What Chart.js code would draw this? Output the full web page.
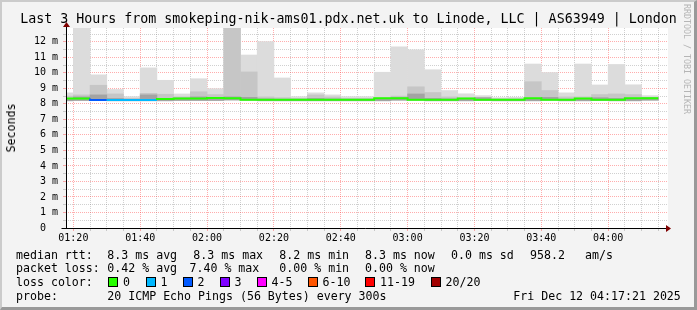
<!DOCTYPE html>
<html><head><meta charset="utf-8">
<script src="https://cdn.jsdelivr.net/npm/chart.js@4/dist/chart.umd.min.js"></script>
<style>
html,body{margin:0;padding:0;}
body{width:697px;height:310px;background:#f3f3f3;position:relative;overflow:hidden;font-family:"DejaVu Sans Mono",monospace;color:#000;}
#frame{position:absolute;left:0;top:0;width:697px;height:310px;box-sizing:border-box;border-top:2px solid #cbcbcb;border-left:2px solid #cbcbcb;border-bottom:3px solid #999;border-right:3px solid #999;pointer-events:none;z-index:5;}
#c{position:absolute;left:0;top:0;}
.t{position:absolute;white-space:pre;font-size:11.6px;line-height:14px;}
#title{position:absolute;left:0;width:697px;top:11px;text-align:center;font-size:13.3px;line-height:16px;white-space:pre;}
#ylab{position:absolute;left:10.5px;top:127.5px;font-size:11.6px;line-height:14px;white-space:pre;transform:translate(-50%,-50%) rotate(-90deg);}
#wm{position:absolute;left:682px;top:4px;font-size:8.3px;line-height:10px;writing-mode:vertical-rl;color:#b5b5b5;white-space:pre;}
.box{position:absolute;width:10px;height:10px;box-sizing:border-box;border:1px solid #000;}
</style></head>
<body>
<canvas id="c" width="697" height="310"></canvas>
<div id="title">Last 3 Hours from smokeping-nik-ams01.pdx.net.uk to Linode, LLC | AS63949 | London</div>
<div id="ylab">Seconds</div>
<div id="wm">RRDTOOL / TOBI OETIKER</div>
<div id="legend"></div>
<div id="frame"></div>
<script>
// ---- data ----
const times = ['01:15','01:20','01:25','01:30','01:35','01:40','01:45','01:50','01:55',
  '02:00','02:05','02:10','02:15','02:20','02:25','02:30','02:35','02:40','02:45','02:50','02:55',
  '03:00','03:05','03:10','03:15','03:20','03:25','03:30','03:35','03:40','03:45','03:50','03:55',
  '04:00','04:05','04:10'];
const medianMs = [8.25,8.34,8.34,8.25,8.25,8.25,8.25,8.32,8.34,8.34,8.38,8.36,8.26,8.26,8.26,8.26,8.26,8.26,
  8.26,8.26,8.36,8.36,8.26,8.26,8.26,8.34,8.26,8.26,8.26,8.36,8.26,8.26,8.34,8.26,8.26,8.36];
const lossCount = [0,0,2,1,1,1,0,0,0,0,0,0,0,0,0,0,0,0,0,0,0,0,0,0,0,0,0,0,0,0,0,0,0,0,0,0];
const smokeMin  = [8.2,8.22,8.22,8.2,8.2,8.2,8.2,8.22,8.22,8.22,8.25,8.24,8.2,8.2,8.2,8.2,8.2,8.2,
  8.2,8.2,8.24,8.24,8.2,8.2,8.2,8.22,8.2,8.2,8.2,8.24,8.2,8.2,8.22,8.2,8.2,8.24];
const smokeDark = [8.3,8.45,8.58,8.35,8.3,8.58,8.35,8.38,8.45,8.4,8.45,8.42,8.32,8.3,8.3,8.35,8.32,8.3,
  8.3,8.3,8.4,8.64,8.35,8.32,8.3,8.4,8.3,8.3,8.35,8.42,8.3,8.3,8.4,8.35,8.35,8.4];
const smokeMid  = [8.5,8.58,9.2,8.64,8.35,8.68,8.62,8.45,8.78,8.6,13.5,10.06,8.45,8.4,8.35,8.58,8.45,8.35,
  8.35,8.4,8.5,9.1,8.73,8.45,8.4,8.42,8.32,8.32,9.43,8.86,8.45,8.45,8.6,8.64,8.6,8.42];
const smokeMax  = [8.71,13.5,9.87,8.93,8.47,10.32,9.52,8.64,9.62,8.98,13.5,11.15,12.02,9.67,8.47,8.71,8.58,8.47,
  8.47,10.04,11.68,11.48,10.2,8.86,8.65,8.53,8.4,8.43,10.57,10.02,8.71,10.57,9.22,10.54,9.23,8.53];
const yTickLabels = ['0','1 m','2 m','3 m','4 m','5 m','6 m','7 m','8 m','9 m','10 m','11 m','12 m'];
const xTickLabels = ['01:20','01:40','02:00','02:20','02:40','03:00','03:20','03:40','04:00'];
const lossNames  = ['0','1','2','3','4-5','6-10','11-19','20/20'];
const lossColors = ['#26ff00','#00b8ff','#0059ff','#7e00ff','#ff00ff','#ff5500','#ff0000','#a10000'];
const viewStart = '01:17:48', viewEnd = '04:17:54', stepMinutes = 5;

// ---- helpers ----
const toMin = s => { const p = s.split(':').map(Number); return p[0]*60 + p[1] + (p[2]||0)/60; };
const lossIdx = n => n <= 3 ? n : n <= 5 ? 4 : n <= 10 ? 5 : n <= 19 ? 6 : 7;
const starts = times.map(toMin);
const centers = starts.map(v => v + stepMinutes/2);
const band = hiArr => centers.map((x,i) => ({x, y:[smokeMin[i], hiArr[i]]}));
const linePts = starts.map((x,i) => ({x, y: medianMs[i]}));
linePts.push({x: starts[starts.length-1] + stepMinutes, y: medianMs[medianMs.length-1]});
const xLabelMap = {}; xTickLabels.forEach(l => xLabelMap[toMin(l)] = l);
const gridTimes = [...starts.slice(1), starts[starts.length-1] + stepMinutes];

const RED = 'rgba(255,40,40,0.38)', GREY = 'rgba(120,120,120,0.35)';
const FONT = {family: 'DejaVu Sans Mono', size: 10};

const bgPlugin = {
  id: 'bg',
  beforeDraw(chart) {
    const {ctx, chartArea: a} = chart;
    ctx.save(); ctx.fillStyle = '#ffffff';
    ctx.fillRect(a.left, a.top, a.right - a.left, a.bottom - a.top);
    ctx.restore();
  },
  afterDraw(chart) {
    const {ctx, chartArea: a} = chart;
    const x0 = Math.round(a.left) + 0.5, y0 = Math.round(a.bottom) + 0.5;
    ctx.save();
    ctx.strokeStyle = '#000'; ctx.lineWidth = 1;
    ctx.beginPath(); ctx.moveTo(x0, y0); ctx.lineTo(x0, a.top - 3); ctx.stroke();
    ctx.beginPath(); ctx.moveTo(x0 - 5, y0); ctx.lineTo(a.right + 1, y0); ctx.stroke();
    ctx.fillStyle = '#7f0000';
    ctx.beginPath(); ctx.moveTo(x0 - 3.5, a.top - 1); ctx.lineTo(x0 + 3.5, a.top - 1); ctx.lineTo(x0, a.top - 6); ctx.closePath(); ctx.fill();
    ctx.beginPath(); ctx.moveTo(a.right - 2, y0 - 3.5); ctx.lineTo(a.right - 2, y0 + 3.5); ctx.lineTo(a.right + 3, y0); ctx.closePath(); ctx.fill();
    ctx.restore();
  }
};

const barDs = (data, color, order) => ({
  type: 'bar', data, backgroundColor: color, borderWidth: 0, order,
  grouped: false, barPercentage: 1, categoryPercentage: 1
});

new Chart(document.getElementById('c'), {
  data: {
    datasets: [
      {
        type: 'line', data: linePts, stepped: 'after', borderWidth: 2, pointRadius: 0,
        borderColor: lossColors[0], order: 0, clip: 0,
        segment: { borderColor: c => lossColors[lossIdx(lossCount[c.p0DataIndex])] }
      },
      barDs(band(smokeDark), '#a3a3a3', 1),
      barDs(band(smokeMid), '#c6c6c6', 2),
      barDs(band(smokeMax), '#dcdcdc', 3)
    ]
  },
  options: {
    responsive: false, animation: false, devicePixelRatio: 1,
    layout: { padding: { left: 0, top: 28, right: 29, bottom: 62 } },
    plugins: { legend: { display: false }, tooltip: { enabled: false } },
    scales: {
      x: {
        type: 'linear', position: 'bottom', min: toMin(viewStart), max: toMin(viewEnd), z: 1,
        offset: false,
        afterBuildTicks: s => { s.ticks = gridTimes.map(v => ({value: v})); },
        afterFit: s => { s.height = 20; },
        grid: {
          offset: false,
          color: c => (c.tick && xLabelMap[c.tick.value]) ? RED : GREY,
          drawTicks: true, tickLength: 3
        },
        border: { display: false, dash: [1, 1] },
        ticks: {
          autoSkip: false, maxRotation: 0, padding: 1, color: '#000', font: FONT,
          callback: v => xLabelMap[v] || ''
        }
      },
      y: {
        type: 'linear', position: 'left', min: 0, max: 12.89, z: 1,
        afterFit: s => { s.width = 66; },
        grid: {
          color: c => (c.tick && Number.isInteger(c.tick.value)) ? RED : GREY,
          drawTicks: true, tickLength: 3
        },
        border: { display: false, dash: [1, 1] },
        ticks: {
          stepSize: 0.5, includeBounds: false, autoSkip: false, padding: 5, color: '#000', font: FONT,
          callback: v => Number.isInteger(v) ? yTickLabels[v].padEnd(3, ' ') : ''
        }
      }
    }
  },
  plugins: [bgPlugin]
});

// ---- legend text (HTML) ----
const L = document.getElementById('legend');
function txt(s, x, cy) {
  const d = document.createElement('div'); d.className = 't';
  d.textContent = s; d.style.left = x + 'px'; d.style.top = (cy - 7) + 'px'; L.appendChild(d);
}
const rows = [254.7, 268.3, 282.3, 296];
txt('median rtt:', 16, rows[0]);
txt('8.3 ms avg', 107.3, rows[0]); txt('8.3 ms max', 193.3, rows[0]); txt('8.2 ms min', 279.3, rows[0]);
txt('8.3 ms now', 365, rows[0]); txt('0.0 ms sd', 451, rows[0]); txt('958.2', 530, rows[0]); txt('am/s', 585, rows[0]);
txt('packet loss:', 16, rows[1]);
txt('0.42 % avg', 107.3, rows[1]); txt('7.40 % max', 189.5, rows[1]); txt('0.00 % min', 279.3, rows[1]); txt('0.00 % now', 365, rows[1]);
txt('loss color:', 16, rows[2]);
const boxX = [108, 145.5, 182.5, 219.5, 256.5, 307.5, 365, 430.5];
lossNames.forEach((n, i) => {
  const b = document.createElement('div'); b.className = 'box';
  b.style.left = boxX[i] + 'px'; b.style.top = (rows[2] - 5) + 'px'; b.style.background = lossColors[i];
  L.appendChild(b);
  txt(n, boxX[i] + 15, rows[2]);
});
txt('probe:', 16, rows[3]);
txt('20 ICMP Echo Pings (56 Bytes) every 300s', 107.3, rows[3]);
txt('Fri Dec 12 04:17:21 2025', 513.3, rows[3]);
</script>
</body></html>
